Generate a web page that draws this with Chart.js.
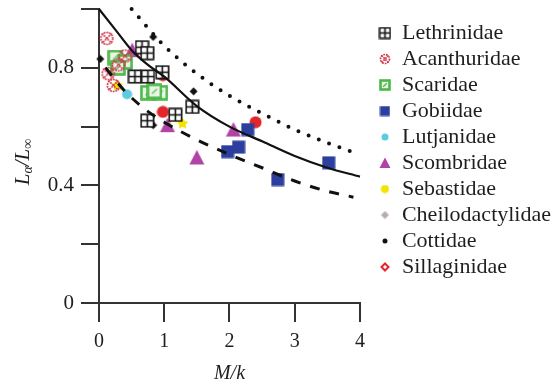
<!DOCTYPE html>
<html>
<head>
<meta charset="utf-8">
<script src="https://cdn.jsdelivr.net/npm/chart.js@4.4.1/dist/chart.umd.min.js"></script>
<style>
  html, body { margin: 0; padding: 0; background: #fff; }
  canvas { display: block; }
</style>
</head>
<body>
<canvas id="chart" width="555" height="384"></canvas>
<script>
// --- Fitted curves ---
const solidX  = [0, 0.25, 0.5, 0.75, 1, 1.5, 2, 2.5, 3, 3.5, 4];
const solidY  = [1.0, 0.93, 0.86, 0.81, 0.77, 0.67, 0.6, 0.55, 0.5, 0.46, 0.43];
const dottedX = [0.5, 1, 1.5, 2, 2.5, 3, 3.5, 4];
const dottedY = [1.0, 0.875, 0.78, 0.705, 0.645, 0.59, 0.545, 0.505];
const dashedX = [0.1, 0.4, 0.7, 1, 1.5, 2, 2.5, 3, 3.5, 3.9];
const dashedY = [0.80, 0.72, 0.66, 0.615, 0.555, 0.505, 0.46, 0.415, 0.38, 0.36];

// --- Family points: M/k and La/Linf ---
const lethX = [0.66, 0.74, 0.55, 0.75, 0.97, 0.74, 1.17, 1.43];
const lethY = [0.87, 0.85, 0.77, 0.77, 0.785, 0.62, 0.64, 0.667];
const acanX = [0.12, 0.40, 0.30, 0.14, 0.22];
const acanY = [0.90, 0.84, 0.81, 0.78, 0.74];
const scarX = [0.25, 0.40, 0.29, 0.75, 0.94, 0.85];
const scarY = [0.835, 0.82, 0.80, 0.715, 0.715, 0.72];
const gobiX = [1.97, 2.14, 2.28, 2.74, 3.52];
const gobiY = [0.515, 0.53, 0.59, 0.42, 0.477];
const lutjX = [0.43];
const lutjY = [0.71];
const scomX = [0.51, 1.05, 1.5, 2.06];
const scomY = [0.86, 0.605, 0.495, 0.59];
const sebaX = [0.28, 1.14, 1.28];
const sebaY = [0.74, 0.63, 0.61];
const cheiX = [0.33];
const cheiY = [0.81];
const cottX = [0.02, 0.83, 1.45, 0.83];
const cottY = [0.83, 0.905, 0.72, 0.605];
const silgX = [0.98, 0.98, 2.4];
const silgY = [0.775, 0.65, 0.615];

const yTickLabels = [0, 0.4, 0.8];
const xTickLabels = [0, 1, 2, 3, 4];

const SERIF = '"Liberation Serif", "Times New Roman", serif';
const TEXT = '#1e1e1e';

// small canvas sprites used as point styles
function sprite(w, h, draw) {
    const c = document.createElement('canvas');
    c.width = w; c.height = h;
    draw(c.getContext('2d'), w, h);
    return c;
}
const boxCross = (s, col, lw) => sprite(s, s, (g, w) => {
    g.fillStyle = '#fff';
    g.fillRect(1, 1, w - 2, w - 2);
    g.strokeStyle = col; g.lineWidth = lw;
    g.strokeRect(lw / 2 + 0.5, lw / 2 + 0.5, w - lw - 1, w - lw - 1);
    g.beginPath();
    g.moveTo(w / 2, 1); g.lineTo(w / 2, w - 1);
    g.moveTo(1, w / 2); g.lineTo(w - 1, w / 2);
    g.stroke();
});
const crossCircle = (s, col) => sprite(s, s, (g, w) => {
    g.strokeStyle = col; g.lineWidth = 1.7;
    g.setLineDash([1.8, 0.9]);
    g.beginPath(); g.arc(w / 2, w / 2, w / 2 - 1.5, 0, Math.PI * 2); g.stroke();
    g.beginPath();
    g.moveTo(2.5, 2.5); g.lineTo(w - 2.5, w - 2.5);
    g.moveTo(w - 2.5, 2.5); g.lineTo(2.5, w - 2.5);
    g.stroke();
});
const greenBox = (s) => sprite(s, s, (g, w) => {
    g.fillStyle = '#e9f6e4';
    g.fillRect(2, 2, w - 4, w - 4);
    g.strokeStyle = '#4cb84a'; g.lineWidth = 2.6;
    g.strokeRect(1.5, 1.5, w - 3, w - 3);
    g.lineWidth = 1.3;
    g.beginPath(); g.moveTo(w * 0.35, w * 0.65); g.lineTo(w * 0.65, w * 0.35); g.stroke();
});
const filled = (s, col, shape) => sprite(s, s, (g, w) => {
    g.fillStyle = col;
    g.beginPath();
    const c = w / 2, r = w / 2 - 0.5;
    if (shape === 'square') g.rect(0.5, 0.5, w - 1, w - 1);
    else if (shape === 'circle') g.arc(c, c, r, 0, Math.PI * 2);
    else if (shape === 'triangle') { g.moveTo(c, 0.5); g.lineTo(w - 0.5, w - 1); g.lineTo(0.5, w - 1); g.closePath(); }
    else if (shape === 'diamond') { g.moveTo(c, 0.5); g.lineTo(w - 0.5, c); g.lineTo(c, w - 0.5); g.lineTo(0.5, c); g.closePath(); }
    else if (shape === 'star') {
        for (let i = 0; i < 10; i++) {
            const a = -Math.PI / 2 + i * Math.PI / 5;
            const rr = i % 2 ? r * 0.55 : r;
            g.lineTo(c + rr * Math.cos(a), c + rr * Math.sin(a));
        }
        g.closePath();
    }
    g.fill();
});
const openDiamond = (s, col) => sprite(s, s, (g, w) => {
    const c = w / 2;
    g.strokeStyle = col; g.lineWidth = 2;
    g.beginPath(); g.moveTo(c, 1.5); g.lineTo(w - 1.5, c); g.lineTo(c, w - 1.5); g.lineTo(1.5, c); g.closePath();
    g.stroke();
});

const RED = '#e3262c';
const families = [
    { label: 'Lethrinidae',      x: lethX, y: lethY, pt: boxCross(15, '#111', 1.6),  lg: boxCross(13, '#111', 1.6) },
    { label: 'Acanthuridae',     x: acanX, y: acanY, pt: crossCircle(15, '#d23a4e'), lg: crossCircle(12, '#d23a4e') },
    { label: 'Scaridae',         x: scarX, y: scarY, pt: greenBox(16),               lg: greenBox(12) },
    { label: 'Gobiidae',         x: gobiX, y: gobiY, pt: filled(14, '#2d3f9e', 'square'),   lg: filled(11, '#2d3f9e', 'square') },
    { label: 'Lutjanidae',       x: lutjX, y: lutjY, pt: filled(11, '#5ccbe0', 'circle'),   lg: filled(8, '#5ccbe0', 'circle') },
    { label: 'Scombridae',       x: scomX, y: scomY, pt: filled(16, '#b044a6', 'triangle'), lg: filled(12, '#b044a6', 'triangle') },
    { label: 'Sebastidae',       x: sebaX, y: sebaY, pt: filled(13, '#f3e300', 'star'),     lg: filled(9, '#f3e300', 'circle') },
    { label: 'Cheilodactylidae', x: cheiX, y: cheiY, pt: filled(10, '#b7aab7', 'diamond'),  lg: filled(9, '#b7aab7', 'diamond') },
    { label: 'Cottidae',         x: cottX, y: cottY, pt: filled(9, '#111', 'diamond'),      lg: filled(6, '#111', 'circle') },
    { label: 'Sillaginidae',     x: silgX, y: silgY, pt: filled(13, RED, 'circle'),         lg: openDiamond(10, RED) },
];

const toXY = (xs, ys) => xs.map((x, i) => ({ x, y: ys[i] }));

const lineSets = [
    { label: 'fit', data: toXY(solidX, solidY), borderWidth: 2.2 },
    { label: 'upper', data: toXY(dottedX, dottedY), borderWidth: 4, borderDash: [0, 11], borderCapStyle: 'round' },
    { label: 'lower', data: toXY(dashedX, dashedY), borderWidth: 3, borderDash: [10, 10] },
].map(d => Object.assign({
    type: 'line',
    borderColor: '#111',
    pointRadius: 0,
    fill: false,
    cubicInterpolationMode: 'monotone',
    clip: false,
    order: 0,
}, d));

const pointSets = families.map(f => ({
    label: f.label,
    data: toXY(f.x, f.y),
    pointStyle: f.pt,
    pointRadius: 7,
    clip: false,
    order: 1,
}));

// italic L_alpha / L_inf title on the left, drawn rotated with small subscripts
const yTitle = {
    id: 'yTitle',
    afterDraw(chart) {
        const g = chart.ctx;
        const parts = [
            ['L', 21, 0], ['\u03b1', 14, 5], ['/L', 21, 0], ['\u221e', 14, 5],
        ];
        g.save();
        g.translate(23, 162);
        g.rotate(-Math.PI / 2);
        g.fillStyle = TEXT;
        g.textBaseline = 'middle';
        let total = 0;
        parts.forEach(p => { g.font = `italic ${p[1]}px ${SERIF}`; total += g.measureText(p[0]).width; });
        let x = -total / 2;
        parts.forEach(p => {
            g.font = `italic ${p[1]}px ${SERIF}`;
            g.fillText(p[0], x, p[2]);
            x += g.measureText(p[0]).width;
        });
        g.restore();
    }
};

const axisColor = '#333';

new Chart(document.getElementById('chart'), {
    type: 'scatter',
    data: { datasets: [...lineSets, ...pointSets] },
    plugins: [yTitle],
    options: {
        responsive: false,
        animation: false,
        devicePixelRatio: 1,
        events: [],
        layout: { padding: { top: 9, left: 0, bottom: 0, right: -6 } },
        scales: {
            x: {
                type: 'linear', min: 0, max: 4,
                afterBuildTicks: s => { s.ticks = xTickLabels.map(v => ({ value: v })); },
                afterFit: s => { s.height = 81; s.paddingLeft = 0; s.paddingRight = 0; },
                ticks: { color: TEXT, font: { family: SERIF, size: 20 }, padding: 8, callback: v => String(v) },
                grid: { drawOnChartArea: false, tickLength: 19, color: axisColor, lineWidth: 2 },
                border: { color: axisColor, width: 2 },
                title: { display: true, text: 'M/k', color: TEXT, font: { family: SERIF, size: 20, style: 'italic', lineHeight: 1 }, padding: 0 },
            },
            y: {
                type: 'linear', min: 0, max: 1,
                ticks: {
                    stepSize: 0.2, color: TEXT, padding: 7,
                    font: { family: SERIF, size: 21 },
                    callback: v => {
                        const r = Math.round(v * 10) / 10;
                        return yTickLabels.includes(r) ? String(r) : '';
                    }
                },
                afterFit: s => { s.width = 99; s.paddingTop = 0; s.paddingBottom = 0; },
                grid: { drawOnChartArea: false, tickLength: 18, color: axisColor, lineWidth: 2 },
                border: { color: axisColor, width: 2 },
            },
            gap: {
                type: 'linear', position: 'right', min: 0, max: 1,
                afterFit: s => { s.width = 15; s.paddingTop = 0; s.paddingBottom = 0; },
                ticks: { display: false },
                grid: { display: false },
                border: { display: false },
            },
        },
        plugins: {
            tooltip: { enabled: false },
            legend: {
                position: 'right',
                align: 'start',
                maxWidth: 230,
                title: { display: true, text: '', font: { size: 5, lineHeight: 1.2 }, padding: { top: 3, bottom: 0 } },
                labels: {
                    usePointStyle: true,
                    boxWidth: 12,
                    padding: 4,
                    color: TEXT,
                    font: { family: SERIF, size: 22 },
                    generateLabels: () => families.map((f, i) => ({
                        text: f.label,
                        pointStyle: f.lg,
                        fillStyle: '#000',
                        strokeStyle: '#000',
                        fontColor: TEXT,
                        lineWidth: 0,
                        hidden: false,
                        datasetIndex: i + lineSets.length,
                    })),
                },
            },
        },
    },
});
</script>
</body>
</html>
